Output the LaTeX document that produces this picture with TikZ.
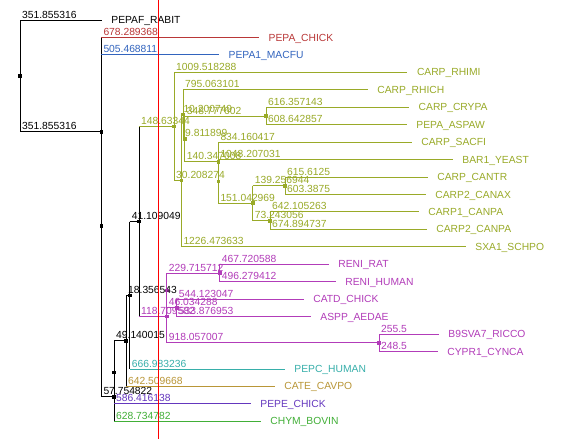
\documentclass[tikz,border=0pt]{standalone}
\usepackage{fontspec}
\setmainfont{Liberation Sans}
\usepackage{xcolor}
\usepackage{tikz}
\usetikzlibrary{positioning}
\newcommand{\treefont}{\fontsize{10.3}{12}\selectfont}
\definecolor{chickred}{RGB}{185,55,55}
\definecolor{macfublue}{RGB}{50,100,190}
\definecolor{fungiolive}{RGB}{153,170,40}
\definecolor{renimagenta}{RGB}{178,60,185}
\definecolor{pepcteal}{RGB}{55,175,170}
\definecolor{catetan}{RGB}{185,150,55}
\definecolor{pepepurple}{RGB}{100,55,190}
\definecolor{chymgreen}{RGB}{65,175,55}
\tikzset{
  treenode/.style={rectangle, fill, inner sep=0pt, minimum size=3.6pt},
  treeleaf/.style={anchor=west, inner sep=0pt, text height=7pt, text depth=0pt, font=\treefont},
  treedist/.style={anchor=base west, inner sep=0pt, font=\treefont},
  treeline/.style={line width=1pt},
  treecut/.style={draw=red, line width=1pt}
}

\begin{document}
\begin{tikzpicture}[x=1pt, y=-1pt]
\path[fill=white, use as bounding box] (0,0) rectangle (586,439);

\node[treenode, black] (n_root) at (20,75.8) {};
\node[treenode, black] (n_a) at (101.3,131.7) {};
\node[treenode, black] (n_x) at (101.3,225.9) {};
\node[treenode, black] (n_y) at (114,396.8) {};
\node[treenode, black] (n_z) at (114,372.4) {};
\node[treenode, black] (n_w) at (126,340.8) {};
\node[treenode, black] (n_v) at (129.7,295.3) {};
\node[treenode, black] (n_u) at (139,221.5) {};
\node[treenode, fungiolive] (n_fungi) at (174,126.5) {};
\node[treenode, fungiolive] (n_f30) at (181.3,180.6) {};
\node[treenode, fungiolive] (n_m) at (183,114.3) {};
\node[treenode, fungiolive] (n_h) at (184.7,138.9) {};
\node[treenode, fungiolive] (n_asp) at (266,116) {};
\node[treenode, fungiolive] (n_g) at (218.3,161.8) {};
\node[treenode, fungiolive] (n_f) at (218.3,181.4) {};
\node[treenode, fungiolive] (n_e) at (252.7,203.2) {};
\node[treenode, fungiolive] (n_cant) at (285,185.8) {};
\node[treenode, fungiolive] (n_canp) at (270,220.7) {};
\node[treenode, renimagenta] (n_t) at (166.7,316.6) {};
\node[treenode, renimagenta] (n_s) at (166.7,290.5) {};
\node[treenode, renimagenta] (n_reni) at (219.7,273) {};
\node[treenode, renimagenta] (n_q) at (176.7,307.9) {};
\node[treenode, renimagenta] (n_b9) at (379,342.8) {};

\coordinate (e_pepaf) at (101.7,20);
\coordinate (e_chick) at (259,37.5);
\coordinate (e_macfu) at (219,54.9);
\coordinate (e_rhimi) at (407.3,72.3);
\coordinate (e_rhich) at (367.7,89.8);
\coordinate (e_crypa) at (409,107.2);
\coordinate (e_aspaw) at (406.7,124.7);
\coordinate (e_sacfi) at (411.7,142.1);
\coordinate (e_yeast) at (452.7,159.6);
\coordinate (e_cantr) at (427.7,177);
\coordinate (e_canax) at (425.7,194.5);
\coordinate (e_canpa1) at (418.7,211.9);
\coordinate (e_canpa2) at (426.7,229.4);
\coordinate (e_schpo) at (465.7,246.8);
\coordinate (e_rat) at (328.7,264.3);
\coordinate (e_human) at (335.7,281.7);
\coordinate (e_catd) at (303.7,299.2);
\coordinate (e_aedae) at (310.7,316.6);
\coordinate (e_ricco) at (438.7,334.1);
\coordinate (e_cynca) at (437.7,351.5);
\coordinate (e_pepc) at (284.7,369);
\coordinate (e_cate) at (274.7,386.4);
\coordinate (e_pepe) at (250.7,403.9);
\coordinate (e_chym) at (260.7,421.3);

\node[treeleaf, right=9.5pt of e_pepaf] (pepaf) {PEPAF\_RABIT};
\node[treeleaf, text=chickred, right=9.5pt of e_chick] (chick) {PEPA\_CHICK};
\node[treeleaf, text=macfublue, right=9.5pt of e_macfu] (macfu) {PEPA1\_MACFU};
\node[treeleaf, text=fungiolive, right=9.5pt of e_rhimi] (rhimi) {CARP\_RHIMI};
\node[treeleaf, text=fungiolive, right=9.5pt of e_rhich] (rhich) {CARP\_RHICH};
\node[treeleaf, text=fungiolive, right=9.5pt of e_crypa] (crypa) {CARP\_CRYPA};
\node[treeleaf, text=fungiolive, right=9.5pt of e_aspaw] (aspaw) {PEPA\_ASPAW};
\node[treeleaf, text=fungiolive, right=9.5pt of e_sacfi] (sacfi) {CARP\_SACFI};
\node[treeleaf, text=fungiolive, right=9.5pt of e_yeast] (yeast) {BAR1\_YEAST};
\node[treeleaf, text=fungiolive, right=9.5pt of e_cantr] (cantr) {CARP\_CANTR};
\node[treeleaf, text=fungiolive, right=9.5pt of e_canax] (canax) {CARP2\_CANAX};
\node[treeleaf, text=fungiolive, right=9.5pt of e_canpa1] (canpa1) {CARP1\_CANPA};
\node[treeleaf, text=fungiolive, right=9.5pt of e_canpa2] (canpa2) {CARP2\_CANPA};
\node[treeleaf, text=fungiolive, right=9.5pt of e_schpo] (schpo) {SXA1\_SCHPO};
\node[treeleaf, text=renimagenta, right=9.5pt of e_rat] (rat) {RENI\_RAT};
\node[treeleaf, text=renimagenta, right=9.5pt of e_human] (human) {RENI\_HUMAN};
\node[treeleaf, text=renimagenta, right=9.5pt of e_catd] (catd) {CATD\_CHICK};
\node[treeleaf, text=renimagenta, right=9.5pt of e_aedae] (aedae) {ASPP\_AEDAE};
\node[treeleaf, text=renimagenta, right=9.5pt of e_ricco] (ricco) {B9SVA7\_RICCO};
\node[treeleaf, text=renimagenta, right=9.5pt of e_cynca] (cynca) {CYPR1\_CYNCA};
\node[treeleaf, text=pepcteal, right=9.5pt of e_pepc] (pepc) {PEPC\_HUMAN};
\node[treeleaf, text=catetan, right=9.5pt of e_cate] (cate) {CATE\_CAVPO};
\node[treeleaf, text=pepepurple, right=9.5pt of e_pepe] (pepe) {PEPE\_CHICK};
\node[treeleaf, text=chymgreen, right=9.5pt of e_chym] (chym) {CHYM\_BOVIN};

\node[treedist] (d_pepaf) at (22,18) {351.855316};
\node[treedist] (d_a) at (22,129.7) {351.855316};
\node[treedist, text=chickred] (d_chick) at (103.3,35.5) {678.289368};
\node[treedist, text=macfublue] (d_macfu) at (103.3,52.9) {505.468811};
\node[treedist] (d_y) at (103.3,394.8) {57.754822};
\node[treedist, text=chymgreen] (d_chym) at (116,419.3) {628.734782};
\node[treedist] (d_w) at (116,338.8) {49.140015};
\node[treedist, text=pepepurple] (d_pepe) at (116,401.9) {586.416138};
\node[treedist] (d_v) at (128,293.3) {18.356543};
\node[treedist, text=catetan] (d_cate) at (128,384.4) {642.509668};
\node[treedist] (d_u) at (131.7,219.5) {41.109049};
\node[treedist, text=pepcteal] (d_pepc) at (131.7,367) {666.983236};
\node[treedist, text=fungiolive] (d_fungi) at (141,124.5) {148.63344};
\node[treedist, text=renimagenta] (d_t) at (141,314.6) {118.709582};
\node[treedist, text=renimagenta] (d_b9) at (168.7,340.8) {918.057007};
\node[treedist, text=renimagenta] (d_reni) at (168.7,271) {229.715712};
\node[treedist, text=renimagenta] (d_q) at (168.7,305.9) {46.034288};
\node[treedist, text=renimagenta] (d_rat) at (221.7,262.3) {467.720588};
\node[treedist, text=renimagenta] (d_human) at (221.7,279.7) {496.279412};
\node[treedist, text=renimagenta] (d_catd) at (178.7,297.2) {544.123047};
\node[treedist, text=renimagenta] (d_aedae) at (178.7,314.6) {533.876953};
\node[treedist, text=renimagenta] (d_ricco) at (381,332.1) {255.5};
\node[treedist, text=renimagenta] (d_cynca) at (381,349.5) {248.5};
\node[treedist, text=fungiolive] (d_rhimi) at (176,70.3) {1009.518288};
\node[treedist, text=fungiolive] (d_f30) at (176,178.6) {30.208274};
\node[treedist, text=fungiolive] (d_m) at (183.3,112.3) {10.200749};
\node[treedist, text=fungiolive] (d_schpo) at (183.3,244.8) {1226.473633};
\node[treedist, text=fungiolive] (d_rhich) at (185,87.8) {795.063101};
\node[treedist, text=fungiolive] (d_h) at (185,136.9) {9.811899};
\node[treedist, text=fungiolive] (d_asp) at (186.7,114) {348.777602};
\node[treedist, text=fungiolive] (d_g) at (186.7,159.8) {140.347008};
\node[treedist, text=fungiolive] (d_crypa) at (268,105.2) {616.357143};
\node[treedist, text=fungiolive] (d_aspaw) at (268,122.7) {608.642857};
\node[treedist, text=fungiolive] (d_sacfi) at (220.3,140.1) {834.160417};
\node[treedist, text=fungiolive] (d_yeast) at (220.3,157.6) {1048.207031};
\node[treedist, text=fungiolive] (d_e) at (220.3,201.2) {151.042969};
\node[treedist, text=fungiolive] (d_cant) at (254.7,183.8) {139.256944};
\node[treedist, text=fungiolive] (d_canp) at (254.7,218.7) {73.243056};
\node[treedist, text=fungiolive] (d_cantr) at (287,175) {615.6125};
\node[treedist, text=fungiolive] (d_canax) at (287,192.5) {603.3875};
\node[treedist, text=fungiolive] (d_canpa1) at (272,209.9) {642.105263};
\node[treedist, text=fungiolive] (d_canpa2) at (272,227.4) {674.894737};

\draw[treeline] (n_root |- e_pepaf) -- (n_root |- n_a);
\draw[treeline] (n_a |- e_chick) -- (n_a |- n_x);
\draw[treeline] (n_x |- e_macfu) -- (n_x |- n_y);
\draw[treeline] (n_y |- n_z) -- (n_y |- e_chym);
\draw[treeline] (n_z |- n_w) -- (n_z |- e_pepe);
\draw[treeline] (n_w |- n_v) -- (n_w |- e_cate);
\draw[treeline] (n_v |- n_u) -- (n_v |- e_pepc);
\draw[treeline] (n_u |- n_fungi) -- (n_u |- n_t);
\draw[treeline] (n_root |- e_pepaf) -- (e_pepaf);
\draw[treeline] (n_root |- n_a) -- (n_a.center);
\draw[treeline] (n_x |- n_y) -- (n_y.center);
\draw[treeline] (n_z |- n_w) -- (n_w.center);
\draw[treeline] (n_w |- n_v) -- (n_v.center);
\draw[treeline] (n_v |- n_u) -- (n_u.center);
\draw[treeline, chickred] (n_a |- e_chick) -- (e_chick);
\draw[treeline, macfublue] (n_x |- e_macfu) -- (e_macfu);
\draw[treeline, chymgreen] (n_y |- e_chym) -- (e_chym);
\draw[treeline, pepepurple] (n_z |- e_pepe) -- (e_pepe);
\draw[treeline, catetan] (n_w |- e_cate) -- (e_cate);
\draw[treeline, pepcteal] (n_v |- e_pepc) -- (e_pepc);

\draw[treeline, fungiolive] (n_u |- n_fungi) -- (n_fungi.center);
\draw[treeline, fungiolive] (n_fungi |- e_rhimi) -- (n_fungi |- n_f30);
\draw[treeline, fungiolive] (n_fungi |- e_rhimi) -- (e_rhimi);
\draw[treeline, fungiolive] (n_fungi |- n_f30) -- (n_f30.center);
\draw[treeline, fungiolive] (n_f30 |- n_m) -- (n_f30 |- e_schpo);
\draw[treeline, fungiolive] (n_f30 |- n_m) -- (n_m.center);
\draw[treeline, fungiolive] (n_f30 |- e_schpo) -- (e_schpo);
\draw[treeline, fungiolive] (n_m |- e_rhich) -- (n_m |- n_h);
\draw[treeline, fungiolive] (n_m |- e_rhich) -- (e_rhich);
\draw[treeline, fungiolive] (n_m |- n_h) -- (n_h.center);
\draw[treeline, fungiolive] (n_h |- n_asp) -- (n_h |- n_g);
\draw[treeline, fungiolive] (n_h |- n_asp) -- (n_asp.center);
\draw[treeline, fungiolive] (n_h |- n_g) -- (n_g.center);
\draw[treeline, fungiolive] (n_asp |- e_crypa) -- (n_asp |- e_aspaw);
\draw[treeline, fungiolive] (n_asp |- e_crypa) -- (e_crypa);
\draw[treeline, fungiolive] (n_asp |- e_aspaw) -- (e_aspaw);
\draw[treeline, fungiolive] (n_g |- e_sacfi) -- (n_g |- n_f);
\draw[treeline, fungiolive] (n_g |- e_sacfi) -- (e_sacfi);
\draw[treeline, fungiolive] (n_f |- e_yeast) -- (n_f |- n_e);
\draw[treeline, fungiolive] (n_f |- e_yeast) -- (e_yeast);
\draw[treeline, fungiolive] (n_f |- n_e) -- (n_e.center);
\draw[treeline, fungiolive] (n_e |- n_cant) -- (n_e |- n_canp);
\draw[treeline, fungiolive] (n_e |- n_cant) -- (n_cant.center);
\draw[treeline, fungiolive] (n_e |- n_canp) -- (n_canp.center);
\draw[treeline, fungiolive] (n_cant |- e_cantr) -- (n_cant |- e_canax);
\draw[treeline, fungiolive] (n_cant |- e_cantr) -- (e_cantr);
\draw[treeline, fungiolive] (n_cant |- e_canax) -- (e_canax);
\draw[treeline, fungiolive] (n_canp |- e_canpa1) -- (n_canp |- e_canpa2);
\draw[treeline, fungiolive] (n_canp |- e_canpa1) -- (e_canpa1);
\draw[treeline, fungiolive] (n_canp |- e_canpa2) -- (e_canpa2);

\draw[treeline, renimagenta] (n_u |- n_t) -- (n_t.center);
\draw[treeline, renimagenta] (n_t |- n_s) -- (n_t |- n_b9);
\draw[treeline, renimagenta] (n_t |- n_b9) -- (n_b9.center);
\draw[treeline, renimagenta] (n_s |- n_reni) -- (n_s |- n_q);
\draw[treeline, renimagenta] (n_s |- n_reni) -- (n_reni.center);
\draw[treeline, renimagenta] (n_s |- n_q) -- (n_q.center);
\draw[treeline, renimagenta] (n_reni |- e_rat) -- (n_reni |- e_human);
\draw[treeline, renimagenta] (n_reni |- e_rat) -- (e_rat);
\draw[treeline, renimagenta] (n_reni |- e_human) -- (e_human);
\draw[treeline, renimagenta] (n_q |- e_catd) -- (n_q |- e_aedae);
\draw[treeline, renimagenta] (n_q |- e_catd) -- (e_catd);
\draw[treeline, renimagenta] (n_q |- e_aedae) -- (e_aedae);
\draw[treeline, renimagenta] (n_b9 |- e_ricco) -- (n_b9 |- e_cynca);
\draw[treeline, renimagenta] (n_b9 |- e_ricco) -- (e_ricco);
\draw[treeline, renimagenta] (n_b9 |- e_cynca) -- (e_cynca);

\coordinate (cut_top) at (158.3,0);
\coordinate (cut_bot) at (158.3,439);
\draw[treecut] (cut_top) -- (cut_bot);
\end{tikzpicture}
\end{document}
